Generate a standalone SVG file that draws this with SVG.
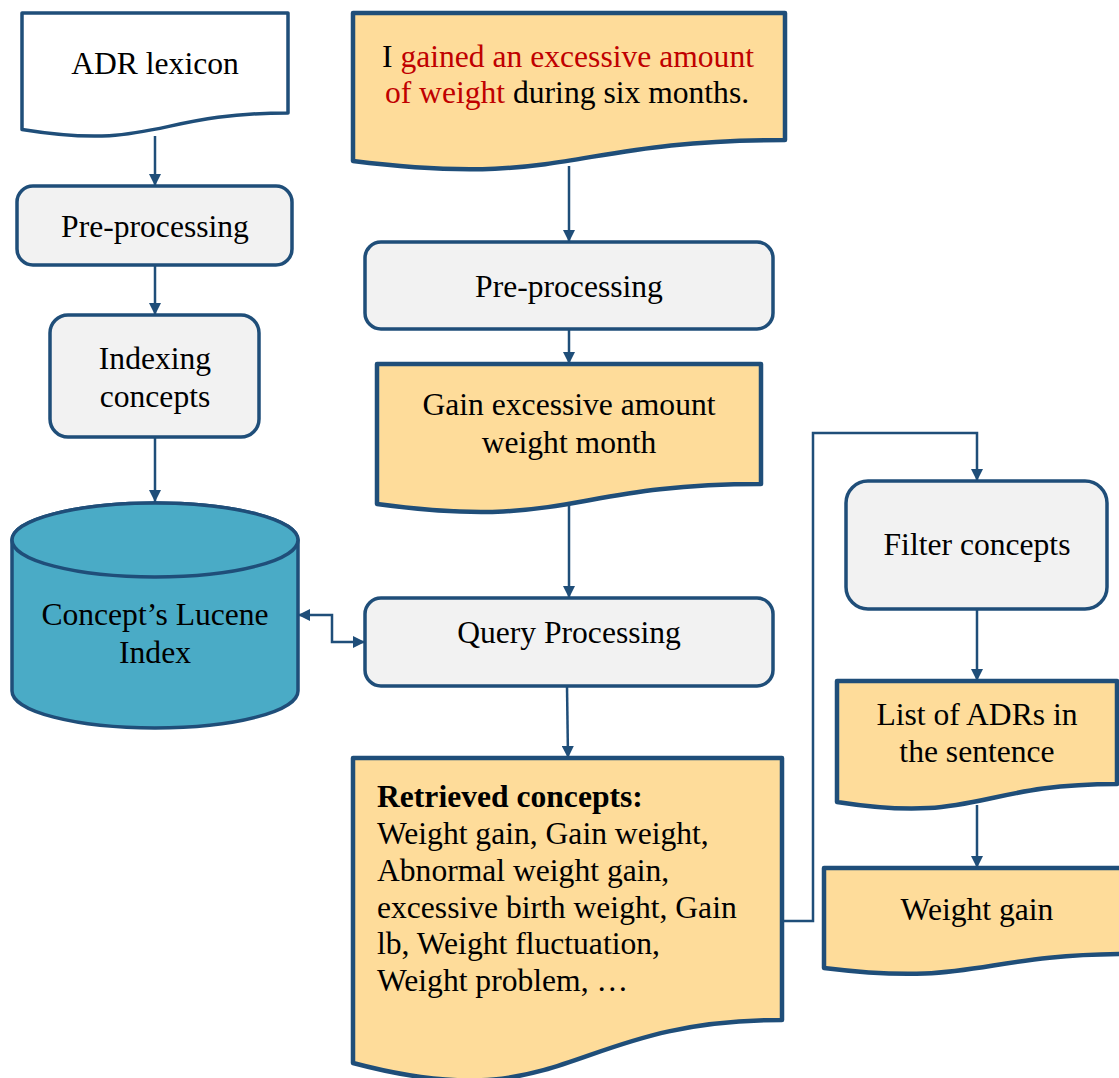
<svg xmlns="http://www.w3.org/2000/svg" width="1119" height="1078" viewBox="0 0 1119 1078">
  <style>
    text { font-family: "Liberation Serif", "Times New Roman", serif; font-size: 31.6px; fill: #000; }
    .mid { text-anchor: middle; }
    .red { fill: #c00000; }
    .proc { fill: #f2f2f2; stroke: #1f4e79; stroke-width: 3.5; }
    .doc { fill: #fedc9a; stroke: #1f4e79; stroke-width: 4.5; stroke-linejoin: round; }
    .docw { fill: #ffffff; stroke: #1f4e79; stroke-width: 3.5; stroke-linejoin: round; }
    .db { fill: #4aabc6; stroke: #1f4e79; stroke-width: 3.5; }
    .edge { fill: none; stroke: #1f4e79; stroke-width: 2.5; }
  </style>
  <defs>
    <marker id="arrow" viewBox="0 0 12 12" refX="12" refY="6" markerWidth="12" markerHeight="12" markerUnits="userSpaceOnUse" orient="auto-start-reverse">
      <path d="M0,0 L12,6 L0,12 Z" fill="#1f4e79"/>
    </marker>
  </defs>

  <!-- left column -->
  <g id="adr-lexicon">
    <path class="docw" d="M22 13 H288 V113 C155 113 155 151 22 129.5 Z"/>
    <text class="mid" x="155" y="74">ADR lexicon</text>
  </g>
  <g id="preprocessing-left">
    <rect class="proc" x="17" y="186" width="275" height="79" rx="16"/>
    <text class="mid" x="155" y="237">Pre-processing</text>
  </g>
  <g id="indexing-concepts">
    <rect class="proc" x="50" y="315" width="209" height="122" rx="18"/>
    <text class="mid" x="155" y="369">Indexing</text>
    <text class="mid" x="155" y="407">concepts</text>
  </g>
  <g id="lucene-index">
    <path class="db" d="M12 540 V691 A143 37 0 0 0 298 691 V540 A143 37 0 0 0 12 540 Z"/>
    <ellipse class="db" cx="155" cy="540" rx="143" ry="37"/>
    <text class="mid" x="155" y="625">Concept’s Lucene</text>
    <text class="mid" x="155" y="663">Index</text>
  </g>

  <!-- middle column -->
  <g id="sentence">
    <path class="doc" d="M353 13 H785 V140 C569 140 569 188 353 161 Z"/>
    <text class="mid" x="568" y="67"><tspan>I </tspan><tspan class="red">gained an excessive amount</tspan></text>
    <text class="mid" x="567" y="103"><tspan class="red">of weight</tspan><tspan> during six months.</tspan></text>
  </g>
  <g id="preprocessing-mid">
    <rect class="proc" x="365" y="242" width="408" height="87" rx="16"/>
    <text class="mid" x="569" y="297">Pre-processing</text>
  </g>
  <g id="normalized-query">
    <path class="doc" d="M377 364 H761 V484 C569 484 569 530 377 504 Z"/>
    <text class="mid" x="569" y="415">Gain excessive amount</text>
    <text class="mid" x="569" y="453">weight month</text>
  </g>
  <g id="query-processing">
    <rect class="proc" x="365" y="598" width="408" height="88" rx="16"/>
    <text class="mid" x="569" y="643">Query Processing</text>
  </g>
  <g id="retrieved-concepts">
    <path class="doc" d="M353 758 H782 V1020 C567 1020 567 1120 353 1063 Z"/>
    <text x="377" y="807" font-weight="bold">Retrieved concepts:</text>
    <text x="377" y="844">Weight gain, Gain weight,</text>
    <text x="377" y="881">Abnormal weight gain,</text>
    <text x="377" y="918">excessive birth weight, Gain</text>
    <text x="377" y="954">lb, Weight fluctuation,</text>
    <text x="377" y="991">Weight problem, …</text>
  </g>

  <!-- right column -->
  <g id="filter-concepts">
    <rect class="proc" x="846" y="481" width="261" height="128" rx="22"/>
    <text class="mid" x="977" y="555">Filter concepts</text>
  </g>
  <g id="adr-list">
    <path class="doc" d="M837 681 H1117 V784 C977 784 977 824 837 802 Z"/>
    <text class="mid" x="977" y="725">List of ADRs in</text>
    <text class="mid" x="977" y="762">the sentence</text>
  </g>
  <g id="final-adr">
    <path class="doc" d="M824 868 H1130 V954 C977 954 977 987 824 968 Z"/>
    <text class="mid" x="977" y="920">Weight gain</text>
  </g>

  <!-- connectors -->
  <g id="connectors">
    <path class="edge" d="M155 136 V186" marker-end="url(#arrow)"/>
    <path class="edge" d="M155 265 V315" marker-end="url(#arrow)"/>
    <path class="edge" d="M155 437 V502" marker-end="url(#arrow)"/>
    <path class="edge" d="M569 166 V242" marker-end="url(#arrow)"/>
    <path class="edge" d="M569 329 V364" marker-end="url(#arrow)"/>
    <path class="edge" d="M569 505 V598" marker-end="url(#arrow)"/>
    <path class="edge" d="M567 686 L568 758" marker-end="url(#arrow)"/>
    <path class="edge" d="M298 615 H332 V642 H365" marker-start="url(#arrow)" marker-end="url(#arrow)"/>
    <path class="edge" d="M782 921 H813 V433 H977 V481" marker-end="url(#arrow)"/>
    <path class="edge" d="M977 609 V681" marker-end="url(#arrow)"/>
    <path class="edge" d="M977 805 V868" marker-end="url(#arrow)"/>
  </g>
</svg>
